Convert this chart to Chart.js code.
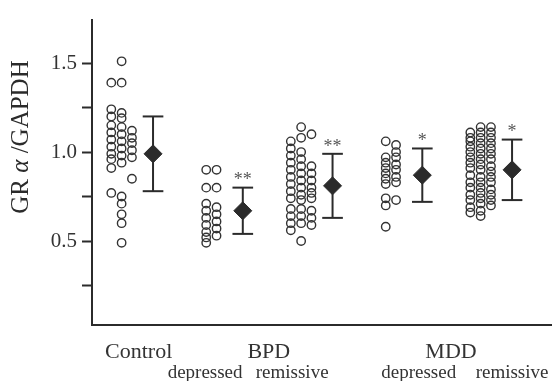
<!DOCTYPE html>
<html><head><meta charset="utf-8">
<style>html,body{margin:0;padding:0;background:#fff}#wrap{width:552px;height:381px;position:relative}</style>
<script src="https://cdn.jsdelivr.net/npm/chart.js@4/dist/chart.umd.min.js"></script>
</head><body><div id="wrap"><canvas id="c"></canvas></div>
<script>
// ---- data ----
const groupNames = ['Control', 'BPD depressed', 'BPD remissive', 'MDD depressed', 'MDD remissive'];
// individual values, arranged in the columns of the dot plot (left to right)
const controlCols = [
  [1.39, 1.24, 1.20, 1.15, 1.11, 1.07, 1.03, 0.99, 0.96, 0.91, 0.77],
  [1.51, 1.39, 1.22, 1.19, 1.14, 1.10, 1.06, 1.02, 0.98, 0.94, 0.75, 0.71, 0.65, 0.60, 0.49],
  [1.12, 1.08, 1.05, 1.01, 0.97, 0.85]
];
const bpdDepCols = [
  [0.90, 0.80, 0.71, 0.67, 0.63, 0.59, 0.55, 0.52, 0.49],
  [0.90, 0.80, 0.69, 0.65, 0.61, 0.57, 0.53]
];
const bpdRemCols = [
  [1.06, 1.02, 0.98, 0.94, 0.90, 0.86, 0.82, 0.78, 0.74, 0.68, 0.64, 0.60, 0.56],
  [1.14, 1.08, 1.00, 0.96, 0.92, 0.88, 0.84, 0.80, 0.76, 0.73, 0.68, 0.64, 0.60, 0.50],
  [1.10, 0.92, 0.88, 0.84, 0.80, 0.77, 0.74, 0.67, 0.63, 0.59]
];
const mddDepCols = [
  [1.06, 0.97, 0.94, 0.91, 0.88, 0.85, 0.82, 0.74, 0.70, 0.58],
  [1.04, 1.00, 0.97, 0.93, 0.90, 0.86, 0.83, 0.73]
];
const mddRemCols = [
  [1.11, 1.08, 1.06, 1.03, 1.00, 0.97, 0.94, 0.91, 0.87, 0.83, 0.80, 0.76, 0.73, 0.69, 0.66],
  [1.14, 1.11, 1.08, 1.05, 1.02, 0.99, 0.96, 0.93, 0.90, 0.86, 0.83, 0.80, 0.77, 0.74, 0.71, 0.67, 0.64],
  [1.14, 1.11, 1.08, 1.05, 1.02, 0.99, 0.96, 0.92, 0.89, 0.86, 0.83, 0.79, 0.76, 0.73, 0.70]
];
const groupCols = [controlCols, bpdDepCols, bpdRemCols, mddDepCols, mddRemCols];
const means = [0.99, 0.67, 0.81, 0.87, 0.90];
const sds = [0.21, 0.13, 0.18, 0.15, 0.17];
const signif = ['', '**', '**', '*', '*'];
const yTickValues = [0.25, 0.5, 0.75, 1.0, 1.25, 1.5];
const yLabeled = [0.5, 1.0, 1.5];
const topLabels = ['Control', 'BPD', 'MDD'];
const topLabelPos = [-0.16, 1.29, 3.32];
const subLabels = ['depressed', 'remissive', 'depressed', 'remissive'];
const subLabelPos = [0.58, 1.55, 2.96, 4.0];

// ---- layout constants ----
const circleOffset = -0.35, colSpacing = 0.115, capHalf = 0.115;
const INK = '#2b2b2b';
const SERIF = "'Liberation Serif', 'DejaVu Serif', serif";

const dots = [];
groupCols.forEach((cols, g) => {
  cols.forEach((col, ci) => {
    const off = circleOffset + (ci - (cols.length - 1) / 2) * colSpacing;
    col.forEach(v => dots.push({x: g + off, y: v}));
  });
});

const datasets = [];
datasets.push({
  label: 'mean', data: means.map((m, g) => ({x: g, y: m})),
  pointStyle: 'rectRot', pointRadius: 9, pointBackgroundColor: INK, pointBorderColor: INK,
  pointBorderWidth: 1, showLine: false
});
means.forEach((m, g) => {
  const lo = m - sds[g], hi = m + sds[g];
  const common = {borderColor: INK, borderWidth: 2, pointRadius: 0, showLine: true, fill: false};
  datasets.push(Object.assign({label: 'err' + g, data: [{x: g, y: lo}, {x: g, y: hi}]}, common));
  datasets.push(Object.assign({label: 'capHi' + g, data: [{x: g - capHalf, y: hi}, {x: g + capHalf, y: hi}]}, common));
  datasets.push(Object.assign({label: 'capLo' + g, data: [{x: g - capHalf, y: lo}, {x: g + capHalf, y: lo}]}, common));
});
datasets.push({
  label: 'individual', data: dots, pointStyle: 'circle', pointRadius: 4.2,
  pointBackgroundColor: 'rgba(0,0,0,0)', pointBorderColor: '#333', pointBorderWidth: 1.4, showLine: false
});

const extras = {
  id: 'extras',
  afterDatasetsDraw(chart) {
    const ctx = chart.ctx, xs = chart.scales.x, ys = chart.scales.y;
    ctx.save();
    ctx.fillStyle = '#555';
    ctx.font = '18px ' + SERIF;
    ctx.textAlign = 'center';
    ctx.textBaseline = 'middle';
    signif.forEach((s, g) => {
      if (!s) return;
      const px = xs.getPixelForValue(g);
      const py = ys.getPixelForValue(means[g] + sds[g]) - 7;
      ctx.fillText(s, px, py);
    });
    ctx.restore();
  },
  afterDraw(chart) {
    const ctx = chart.ctx;
    ctx.save();
    ctx.translate(21, 137);
    ctx.rotate(-Math.PI / 2);
    ctx.fillStyle = INK;
    ctx.textBaseline = 'middle';
    ctx.textAlign = 'left';
    const parts = [['GR ', 'normal'], ['α', 'italic'], [' /GAPDH', 'normal']];
    let total = 0;
    parts.forEach(p => { ctx.font = p[1] + ' 25px ' + SERIF; total += ctx.measureText(p[0]).width; });
    let x = -total / 2;
    parts.forEach(p => { ctx.font = p[1] + ' 25px ' + SERIF; ctx.fillText(p[0], x, 0); x += ctx.measureText(p[0]).width; });
    ctx.restore();
  }
};

new Chart(document.getElementById('c'), {
  type: 'scatter',
  data: {datasets},
  options: {
    responsive: true, maintainAspectRatio: false, animation: false,
    layout: {autoPadding: false, padding: {top: 20, left: 0, right: 0, bottom: 0}},
    plugins: {legend: {display: false}, tooltip: {enabled: false}},
    scales: {
      x: {
        type: 'linear', position: 'bottom', min: -0.68, max: 4.445, weight: 0,
        border: {display: true, color: INK, width: 2},
        grid: {display: false, drawTicks: false},
        ticks: {autoSkip: false, maxRotation: 0, padding: 14, color: '#333',
          font: {family: SERIF, size: 22},
          callback: (v, i) => topLabels[i]},
        afterBuildTicks: a => { a.ticks = topLabelPos.map(v => ({value: v})); },
        afterFit: a => { a.height = 34; a.paddingLeft = 0; a.paddingRight = 0; }
      },
      x2: {
        type: 'linear', position: 'bottom', min: -0.68, max: 4.445, weight: 1,
        border: {display: false},
        grid: {display: false, drawTicks: false},
        ticks: {autoSkip: false, maxRotation: 0, padding: 3, color: '#333',
          font: {family: SERIF, size: 19},
          callback: (v, i) => subLabels[i]},
        afterBuildTicks: a => { a.ticks = subLabelPos.map(v => ({value: v})); },
        afterFit: a => { a.height = 22; a.paddingLeft = 0; a.paddingRight = 0; }
      },
      y: {
        type: 'linear', min: 0.028, max: 1.742,
        border: {display: true, color: INK, width: 2},
        grid: {drawOnChartArea: false, drawTicks: true, tickLength: 10, tickColor: INK, tickWidth: 2},
        ticks: {autoSkip: false, padding: 5, color: '#333', font: {family: SERIF, size: 21},
          callback: v => yLabeled.some(t => Math.abs(t - v) < 1e-6) ? v.toFixed(1) : ''},
        afterBuildTicks: a => { a.ticks = yTickValues.map(v => ({value: v})); },
        afterFit: a => { a.width = 92; a.paddingTop = 0; a.paddingBottom = 0; }
      }
    }
  },
  plugins: [extras]
});
</script></body></html>
